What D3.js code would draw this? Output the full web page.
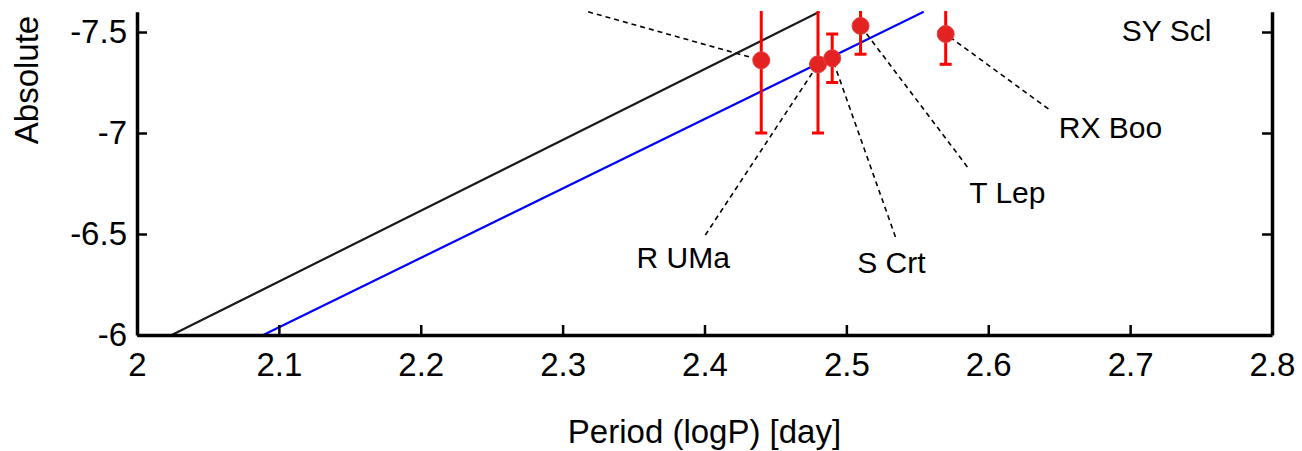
<!DOCTYPE html>
<html>
<head>
  <meta charset="utf-8">
  <title></title>
  <style>
    body { margin: 0; background: #fff; }
    .axis path, .axis line { stroke: #000; }
    .axis path { stroke-width: 3.5px; }
    .axis line { stroke-width: 2.5px; }
    .axis text { font-family: "Liberation Sans", Arial, sans-serif; font-size: 33px; fill: #000; }
    .title { font-family: "Liberation Sans", Arial, sans-serif; font-size: 33px; fill: #000; }
    .star-label { font-family: "Liberation Sans", Arial, sans-serif; font-size: 30px; fill: #000; }
    .leader { stroke: #000; stroke-width: 1.6px; stroke-dasharray: 5,4; fill: none; }
    .err { stroke: #ff0000; stroke-width: 3px; }
  </style>
</head>
<body>
<svg width="1302" height="451"></svg>
<script src="https://cdn.jsdelivr.net/npm/d3@7"></script>
<script>

// stars: log period, absolute magnitude, error
var logP = [2.44, 2.48, 2.49, 2.51, 2.57];
var mag = [-7.36, -7.34, -7.37, -7.53, -7.49];
var magErr = [0.36, 0.34, 0.12, 0.14, 0.15];

// period-luminosity lines (end points)
var blackLine = [[2.0245, -6], [2.481, -7.6]];
var blueLine = [[2.089, -6], [2.5545, -7.6]];

// labels: name, label centre, leader start, index of star it points at (-1 = none)
var labelNames = ["R UMa", "S Crt", "T Lep", "RX Boo", "SY Scl"];
var labelPos = [[2.385, -6.386], [2.5317, -6.361], [2.6135, -6.703], [2.6862, -7.025], [2.7257, -7.505]];
var leaderFrom = [[2.4006, -6.495], [2.5346, -6.485], [2.5853, -6.832], [2.6424, -7.119], null];
var leaderTo = [1, 2, 3, 4, -1];
// leader of a label outside the visible area
var offLeader = [[2.318, -7.6], 0];

var xTicks = [2, 2.1, 2.2, 2.3, 2.4, 2.5, 2.6, 2.7, 2.8];
var yTicks = [-6, -6.5, -7, -7.5];

var svg = d3.select("svg");
var pLeft = 137, pRight = 1272, pTop = 11, pBottom = 335;

var x = d3.scaleLinear().domain([2, 2.8]).range([pLeft, pRight]);
var y = d3.scaleLinear().domain([-6, -7.6]).range([pBottom, 11.8]);

svg.append("clipPath").attr("id", "plotclip")
  .append("rect")
  .attr("x", pLeft).attr("y", pTop)
  .attr("width", pRight - pLeft).attr("height", pBottom - pTop);

var plot = svg.append("g").attr("clip-path", "url(#plotclip)");

var line = d3.line().x(function(d) { return x(d[0]); }).y(function(d) { return y(d[1]); });

plot.append("path").datum(blackLine).attr("d", line)
  .attr("stroke", "#1a1a1a").attr("stroke-width", 2.2).attr("fill", "none");
plot.append("path").datum(blueLine).attr("d", line)
  .attr("stroke", "#0000ff").attr("stroke-width", 2.2).attr("fill", "none");

// leader lines
leaderTo.forEach(function(k, i) {
  if (k < 0) return;
  plot.append("line").attr("class", "leader")
    .attr("x1", x(leaderFrom[i][0])).attr("y1", y(leaderFrom[i][1]))
    .attr("x2", x(logP[k])).attr("y2", y(mag[k]));
});
plot.append("line").attr("class", "leader")
  .attr("x1", x(offLeader[0][0])).attr("y1", y(offLeader[0][1]))
  .attr("x2", x(logP[offLeader[1]])).attr("y2", y(mag[offLeader[1]]));

// error bars
var capW = 6;
logP.forEach(function(p, i) {
  var g = plot.append("g");
  var lo = mag[i] + magErr[i], hi = mag[i] - magErr[i];
  g.append("line").attr("class", "err")
    .attr("x1", x(p)).attr("x2", x(p)).attr("y1", y(lo)).attr("y2", y(hi));
  g.append("line").attr("class", "err")
    .attr("x1", x(p) - capW).attr("x2", x(p) + capW).attr("y1", y(lo)).attr("y2", y(lo));
  g.append("line").attr("class", "err")
    .attr("x1", x(p) - capW).attr("x2", x(p) + capW).attr("y1", y(hi)).attr("y2", y(hi));
});

plot.selectAll("circle.star")
  .data(logP)
  .enter().append("circle")
  .attr("class", "star")
  .attr("cx", function(d) { return x(d); })
  .attr("cy", function(d, i) { return y(mag[i]); })
  .attr("r", 8.5)
  .attr("fill", "#e32222")
  .attr("stroke", "#e84040")
  .attr("stroke-width", 1);

// star names
svg.selectAll("text.star-label")
  .data(labelNames)
  .enter().append("text")
  .attr("class", "star-label")
  .attr("x", function(d, i) { return x(labelPos[i][0]); })
  .attr("y", function(d, i) { return y(labelPos[i][1]); })
  .attr("dy", "0.35em")
  .attr("text-anchor", "middle")
  .text(function(d) { return d; });

// axes
var fmt = function(d) { return String(d); };

svg.append("g").attr("class", "axis")
  .attr("transform", "translate(0," + pBottom + ")")
  .call(d3.axisBottom(x).tickValues(xTicks).tickFormat(fmt).tickSizeInner(-10).tickSizeOuter(0).tickPadding(18));

svg.append("g").attr("class", "axis")
  .attr("transform", "translate(" + pLeft + ",0)")
  .call(d3.axisLeft(y).tickValues(yTicks).tickFormat(fmt).tickSizeInner(-10).tickSizeOuter(0).tickPadding(10));

svg.append("g").attr("class", "axis")
  .attr("transform", "translate(" + pRight + ",0)")
  .call(d3.axisRight(y).tickValues(yTicks).tickFormat("").tickSizeInner(-10).tickSizeOuter(0));

svg.append("text").attr("class", "title")
  .attr("x", (pLeft + pRight) / 2).attr("y", 443)
  .attr("text-anchor", "middle")
  .text("Period (logP) [day]");

svg.append("text").attr("class", "title")
  .attr("transform", "translate(38,80) rotate(-90)")
  .attr("text-anchor", "middle")
  .text("Absolute");

</script>
</body>
</html>
